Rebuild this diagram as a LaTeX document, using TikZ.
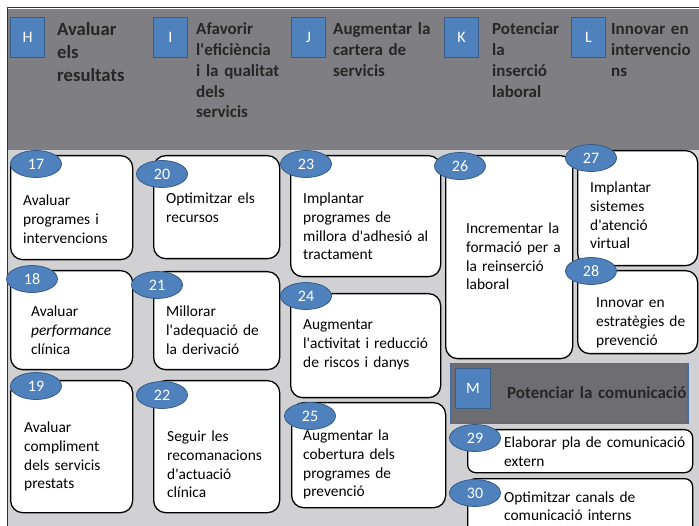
\documentclass[tikz,border=0pt]{standalone}
\usepackage{fontspec}
\setmainfont{Carlito}[Ligatures=TeXOff]
\usetikzlibrary{shapes.geometric}
\definecolor{headgray}{RGB}{127,127,131}
\definecolor{bodygray}{RGB}{209,209,211}
\definecolor{mgray}{RGB}{110,110,114}
\definecolor{numblue}{RGB}{79,129,189}
\definecolor{numedge}{RGB}{56,93,138}
\definecolor{mborder}{RGB}{70,110,160}
\definecolor{headtxt}{RGB}{38,38,38}
\tikzset{
  card/.style={draw=black, line width=1.3pt, fill=white, rounded corners=12pt, anchor=north west, inner sep=0pt},
  smallcard/.style={card, rounded corners=8pt},
  num/.style={ellipse, draw=numedge, fill=numblue, line width=0.8pt, minimum width=51pt, minimum height=27pt, inner sep=0pt, text=white, font=\fontsize{16}{16}\selectfont},
  sq/.style={draw=numedge, fill=numblue, line width=1pt, inner sep=0pt, anchor=north west, minimum width=34pt, minimum height=40pt, text=white, font=\fontsize{16}{16}\selectfont},
  htext/.style={anchor=base west, inner sep=0pt, text width=130pt, align=left, text=headtxt, font=\bfseries\fontsize{17}{20.7}\selectfont},
  btext/.style={anchor=base west, inner sep=0pt, text width=220pt, align=left, text=black, font=\fontsize{15.4}{18.6}\selectfont}
}
\begin{document}
\begin{tikzpicture}[x=1pt, y=-1pt]
\useasboundingbox (0,0) rectangle (699,526);
% backgrounds
\fill[white] (0,0) rectangle (699,526);
\fill[bodygray] (8,150) rectangle (699,526);
\fill[headgray] (8,9) rectangle (699,150);
\draw[line width=1pt, black!80] (7,526) -- (7,8) -- (699,8);
% header squares
\node[sq] (sqH) at (10,17) {H};
\node[sq] (sqI) at (153,17) {I};
\node[sq] (sqJ) at (291,17) {J};
\node[sq] (sqK) at (444,17) {K};
\node[sq] (sqL) at (571,17) {L};
% header texts
\node[htext, font=\bfseries\fontsize{18.7}{23}\selectfont] (tH) at (57,36) {Avaluar\\els\\resultats};
\node[htext] (tI) at (196,35) {Afavorir\\l'eficiència\\i la qualitat\\dels\\servicis};
\node[htext] (tJ) at (333,35) {Augmentar la\\cartera de\\servicis};
\node[htext] (tK) at (492,35) {Potenciar\\la\\inserció\\laboral};
\node[htext] (tL) at (611,35) {Innovar en\\intervencio\\ns};
% cards
\node[card, minimum width=122pt, minimum height=104pt] (b17) at (10,155) {};
\node[card, minimum width=122pt, minimum height=99pt] (b18) at (10,270) {};
\node[card, minimum width=122pt, minimum height=132pt] (b19) at (10,380) {};
\node[card, minimum width=126pt, minimum height=103pt] (b20) at (153,155) {};
\node[card, minimum width=126pt, minimum height=98pt] (b21) at (153,271) {};
\node[card, minimum width=126pt, minimum height=132pt] (b22) at (153,380) {};
\node[card, minimum width=150pt, minimum height=121pt] (b23) at (290,155) {};
\node[card, minimum width=150pt, minimum height=104pt] (b24) at (290,293) {};
\node[card, minimum width=154pt, minimum height=105pt] (b25) at (291,402) {};
\node[card, minimum width=127pt, minimum height=203pt] (b26) at (445,155) {};
\node[card, minimum width=120pt, minimum height=115pt] (b27) at (577,150) {};
\node[card, minimum width=120pt, minimum height=83pt] (b28) at (577,270) {};
% M box
\node[draw=mborder, fill=mgray, line width=1.5pt, anchor=north west, inner sep=0pt, minimum width=237pt, minimum height=60pt] (mbox) at (450,363) {};
\node[sq, minimum width=35pt] (sqM) at (455,368) {M};
\node[htext, text width=200pt] (tM) at (507,399) {Potenciar la comunicació};
\node[smallcard, minimum width=225pt, minimum height=43pt] (b29) at (467,429) {};
\node[smallcard, minimum width=225pt, minimum height=60pt] (b30) at (467,478) {};
% numbers
\node[num] (n17) at (36,164) {17};
\node[num] (n20) at (162,174) {20};
\node[num] (n23) at (306,164) {23};
\node[num] (n26) at (460,166) {26};
\node[num] (n27) at (591,158) {27};
\node[num] (n28) at (591,271) {28};
\node[num] (n18) at (32,279) {18};
\node[num] (n21) at (157,285) {21};
\node[num] (n24) at (306,296) {24};
\node[num] (n19) at (36,386) {19};
\node[num] (n22) at (162,395) {22};
\node[num] (n25) at (310,416) {25};
\node[num] (n29) at (475,438) {29};
\node[num] (n30) at (475,493) {30};
% card texts
\node[btext] (t17) at (23,206) {Avaluar\\programes i\\intervencions};
\node[btext] (t20) at (166,204) {Optimitzar els\\recursos};
\node[btext] (t23) at (303,204) {Implantar\\programes de\\millora d'adhesió al\\tractament};
\node[btext] (t24) at (303,330) {Augmentar\\l'activitat i reducció\\de riscos i danys};
\node[btext] (t25) at (303,441) {Augmentar la\\cobertura dels\\programes de\\prevenció};
\node[btext] (t26) at (466,234) {Incrementar la\\formació per a\\la reinserció\\laboral};
\node[btext] (t27) at (590,193) {Implantar\\sistemes\\d'atenció\\virtual};
\node[btext] (t28) at (596,308) {Innovar en\\estratègies de\\prevenció};
\node[btext] (t18) at (31,317) {Avaluar\\\textit{performance}\\clínica};
\node[btext] (t21) at (166,317) {Millorar\\l'adequació de\\la derivació};
\node[btext] (t19) at (24,433) {Avaluar\\compliment\\dels servicis\\prestats};
\node[btext] (t22) at (167,442) {Seguir les\\recomanacions\\d'actuació\\clínica};
\node[btext] (t29) at (504,448) {Elaborar pla de comunicació\\extern};
\node[btext] (t30) at (504,502) {Optimitzar canals de\\comunicació interns};
\end{tikzpicture}
\end{document}
